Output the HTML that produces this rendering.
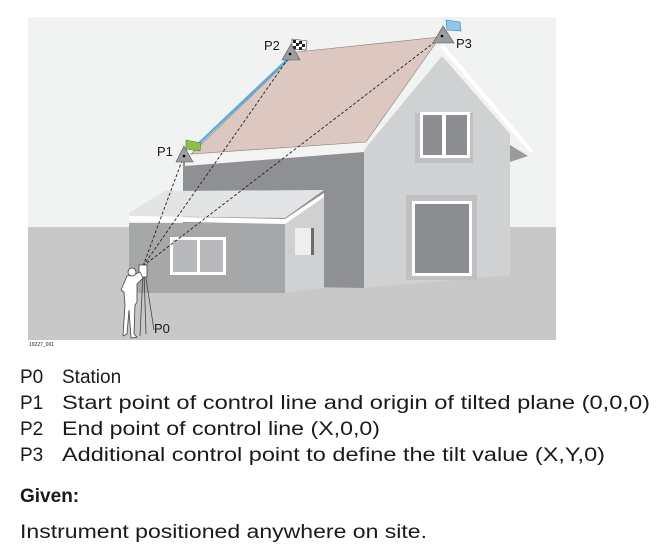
<!DOCTYPE html>
<html><head><meta charset="utf-8"><style>
html,body{margin:0;padding:0;background:#fff;}
svg{display:block;}
text{font-family:"Liberation Sans",sans-serif;fill:#1a1a1a;}
</style></head><body>
<svg width="670" height="557" viewBox="0 0 670 557" xmlns="http://www.w3.org/2000/svg">
<rect x="28" y="17" width="528" height="323" fill="#f1f3f2"/>
<rect x="28" y="227" width="528" height="113" fill="#c8c8c9"/>
<!-- main gable wall -->
<polygon points="364,150 442,56 510,134 510,275 364,288" fill="#d0d1d2"/>
<polygon points="510,145 528,156 510,162" fill="#9a9b9d"/>
<polyline points="442,46 532,152" fill="none" stroke="#fff" stroke-width="4"/>
<!-- main front wall -->
<polygon points="183,162 364,147 364,288 183,285" fill="#8f9093"/>
<polygon points="185,157 366,143 364,152 185,166" fill="#f4f4f4"/>
<!-- roof -->
<polygon points="191,154 297,52 440,37 366,142" fill="#dcc8c0" stroke="#8a7a74" stroke-width="0.6"/>
<!-- upper window -->
<rect x="415" y="113" width="58" height="50" fill="#bfc0c2"/>
<rect x="420" y="112" width="50" height="46" fill="#fff"/>
<rect x="423" y="115" width="19" height="40" fill="#8c8d90"/>
<rect x="446" y="115" width="21" height="40" fill="#8c8d90"/>
<!-- large window -->
<rect x="406" y="195" width="71" height="85" fill="#bfc0c2"/>
<rect x="412" y="201" width="60" height="75" fill="#fff"/>
<rect x="415" y="204" width="54" height="69" fill="#8c8d90"/>
<!-- annex -->
<polygon points="285,222 324,196 324,288 285,293" fill="#cfd0d1"/>
<rect x="129" y="223" width="156" height="70" fill="#a6a7a9"/>
<polygon points="129,213 165,191 324,190 285,218 129,216" fill="#e3e4e5"/>
<polygon points="129,216 285,219 324,193 324,197 285,224 129,221" fill="#fff"/>
<rect x="170" y="237" width="56" height="38" fill="#fff"/>
<rect x="173" y="240" width="24" height="32" fill="#b8b9bb"/>
<rect x="200" y="240" width="23" height="32" fill="#b8b9bb"/>
<rect x="295" y="228" width="18" height="27" fill="#eeeeee"/>
<rect x="311" y="228" width="3" height="27" fill="#6a6b6d"/>
<!-- lines -->
<line x1="194" y1="148" x2="288" y2="59" stroke="#5aabdf" stroke-width="2.5"/>
<g stroke="#222" stroke-width="0.9" stroke-dasharray="3,2" fill="none">
<line x1="143" y1="266" x2="183" y2="158"/>
<line x1="143" y1="266" x2="290" y2="56"/>
<line x1="143" y1="266" x2="440" y2="38"/>
</g>
<!-- markers -->
<polygon points="186,140 201,143 200,151 186,149" fill="#8dc04a" stroke="#557a2a" stroke-width="0.6"/>
<polygon points="184,146 176,162 193,162" fill="#9c9d9f" stroke="#555" stroke-width="0.6"/>
<circle cx="184" cy="156" r="1.3" fill="#000"/>
<polygon points="292,39 307,41 306,50 292,49" fill="#fff" stroke="#333" stroke-width="0.6"/>
<path d="M293,40h3v3h-3zM299,41h3v3h-3zM296,43h3v3h-3zM302,44h3v3h-3zM293,46h3v3h-3zM299,47h3v3h-3z" fill="#222"/>
<polygon points="291,44 282,60 300,60" fill="#9c9d9f" stroke="#555" stroke-width="0.6"/>
<circle cx="290" cy="54" r="1.3" fill="#000"/>
<polygon points="446,20 460,22 461,31 447,30" fill="#8fc6ec" stroke="#3a7fb0" stroke-width="0.6"/>
<polygon points="443,26 433,43 454,43" fill="#9c9d9f" stroke="#555" stroke-width="0.6"/>
<circle cx="442" cy="36" r="1.3" fill="#000"/>
<!-- person & tripod -->
<g fill="#fff" stroke="#444" stroke-width="0.8">
<line x1="143" y1="272" x2="140" y2="336"/>
<line x1="145" y1="272" x2="154" y2="330"/>
<line x1="144" y1="272" x2="146" y2="334"/>
<rect x="139" y="265" width="8" height="12"/>
<path d="M121,290 L127,276 L133,275 L140,272 L143,278 L137,284 L137,302 L135,305 L134,334 L137,337 L131,338 L129,310 L127,334 L123,336 L125,305 L124,292 Z"/>
<circle cx="132" cy="272" r="4"/>
</g>
<text x="157" y="156" font-size="13">P1</text>
<text x="264" y="50" font-size="13">P2</text>
<text x="456" y="48" font-size="13">P3</text>
<text x="154" y="333" font-size="13">P0</text>
<text x="29" y="346" font-size="5" fill="#444">19227_001</text>
<!-- legend -->
<g font-size="19">
<text x="20" y="383">P0</text><text x="62" y="383">Station</text>
<text x="20" y="409">P1</text><text x="62" y="409" textLength="588" lengthAdjust="spacingAndGlyphs">Start point of control line and origin of tilted plane (0,0,0)</text>
<text x="20" y="435">P2</text><text x="62" y="435" textLength="318" lengthAdjust="spacingAndGlyphs">End point of control line (X,0,0)</text>
<text x="20" y="461">P3</text><text x="62" y="461" textLength="543" lengthAdjust="spacingAndGlyphs">Additional control point to define the tilt value (X,Y,0)</text>
<text x="20" y="502" font-weight="bold">Given:</text>
<text x="20" y="538" textLength="407" lengthAdjust="spacingAndGlyphs">Instrument positioned anywhere on site.</text>
</g>
</svg>
</body></html>
